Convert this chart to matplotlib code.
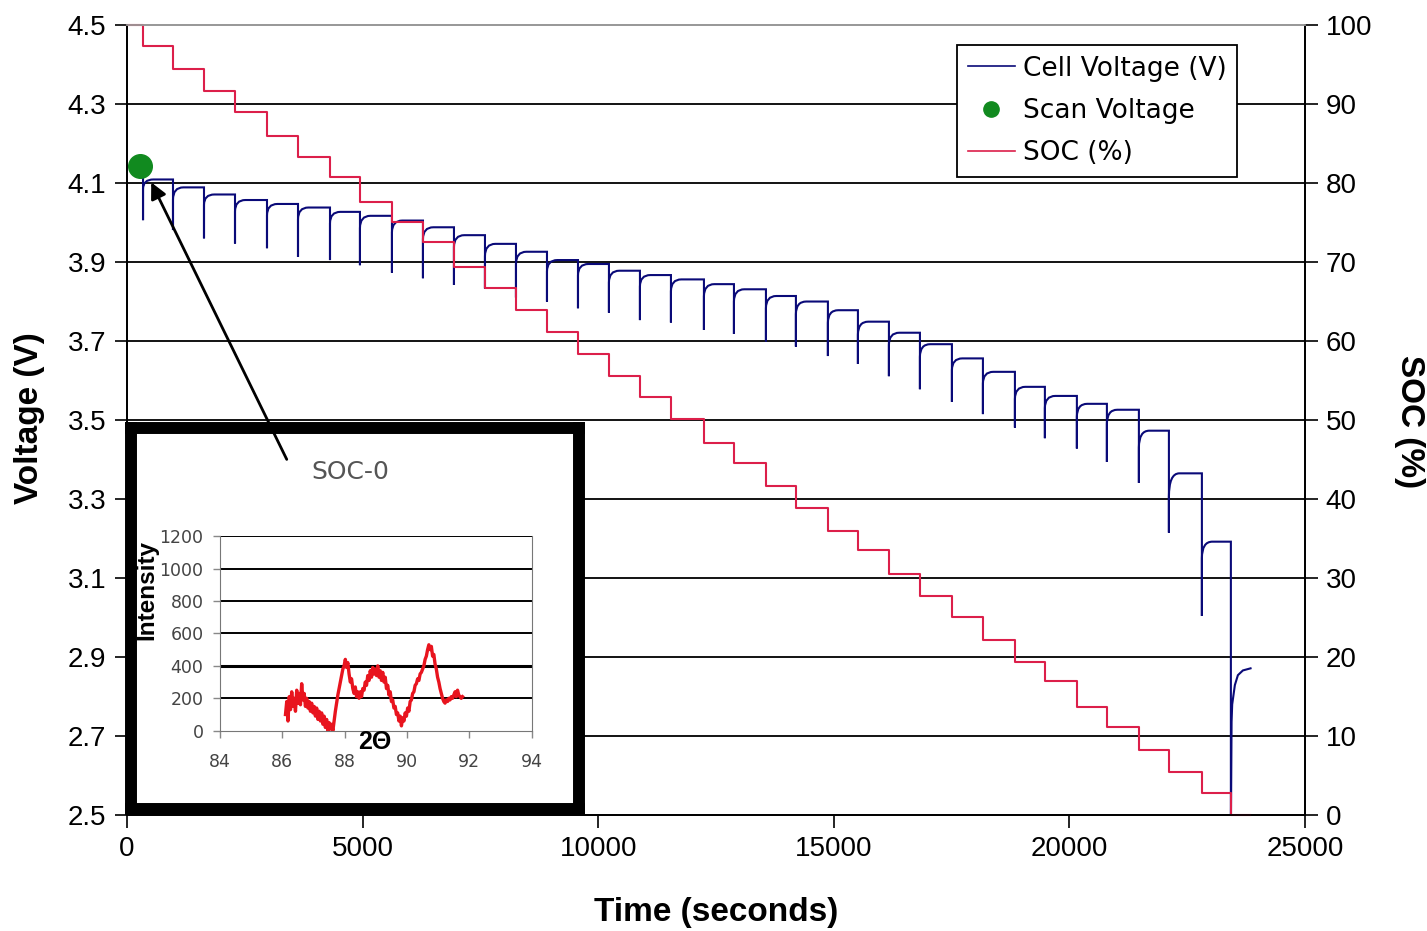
import matplotlib.pyplot as plt
from matplotlib.path import Path
from matplotlib.patches import PathPatch
from matplotlib.lines import Line2D

plt.rcParams['font.family'] = ['Liberation Sans', 'DejaVu Sans']

# discharge pulses: start time (s), dip, recovered and rest (plateau) voltage
step_t = [340, 976, 1634, 2292, 2971, 3629, 4308, 4944, 5623, 6281,
          6939, 7597, 8255, 8913, 9571, 10228, 10886, 11544, 12244, 12881,
          13560, 14196, 14875, 15512, 16170, 16828, 17507, 18165, 18844, 19480,
          20159, 20796, 21475, 22112, 22812, 23427]
v_dip = [4.006, 3.981, 3.960, 3.947, 3.935, 3.913, 3.905, 3.892, 3.873, 3.859,
         3.842, 3.833, 3.810, 3.800, 3.783, 3.772, 3.753, 3.747, 3.728, 3.718,
         3.699, 3.686, 3.662, 3.642, 3.611, 3.578, 3.546, 3.515, 3.481, 3.454,
         3.428, 3.394, 3.341, 3.215, 3.004, 2.45]
v_rec = [4.085, 4.058, 4.045, 4.028, 4.018, 4.008, 3.998, 3.986, 3.975, 3.958,
         3.938, 3.915, 3.895, 3.876, 3.866, 3.848, 3.838, 3.826, 3.813, 3.800,
         3.783, 3.768, 3.746, 3.716, 3.690, 3.660, 3.626, 3.592, 3.553, 3.530,
         3.508, 3.490, 3.430, 3.305, 3.150]
v_plat = [4.109, 4.089, 4.071, 4.057, 4.047, 4.038, 4.027, 4.017, 4.005, 3.988,
          3.968, 3.946, 3.926, 3.905, 3.895, 3.878, 3.867, 3.856, 3.844, 3.831,
          3.814, 3.800, 3.778, 3.749, 3.721, 3.692, 3.656, 3.622, 3.584, 3.561,
          3.541, 3.526, 3.473, 3.365, 3.192]
start_t, start_v = 250, 4.135
# recovery after the final (cut-off) pulse
tail_t = [23442, 23455, 23512, 23576, 23682, 23866]
tail_v = [2.736, 2.780, 2.829, 2.854, 2.866, 2.872]

# state of charge after each pulse
soc = [97.3, 94.4, 91.6, 89.0, 86.0, 83.3, 80.8, 77.6, 75.1, 72.5,
       69.4, 66.7, 63.9, 61.2, 58.4, 55.6, 52.9, 50.1, 47.1, 44.5,
       41.6, 38.8, 36.0, 33.5, 30.5, 27.7, 25.1, 22.2, 19.4, 16.9,
       13.7, 11.1, 8.2, 5.4, 2.8, 0.0]
soc_end_t = 23830

scan_t, scan_v = 276, 4.143

# XRD inset pattern (SOC-0)
two_theta = [86.10, 86.14, 86.18, 86.22, 86.26, 86.30, 86.34, 86.38, 86.42, 86.46,
             86.50, 86.54, 86.58, 86.62, 86.66, 86.70, 86.74, 86.78, 86.82, 86.86,
             86.90, 86.94, 86.98, 87.02, 87.06, 87.10, 87.14, 87.18, 87.22, 87.26,
             87.30, 87.34, 87.38, 87.42, 87.46, 87.50, 87.54, 87.58, 87.62, 87.66,
             87.70, 87.74, 87.78, 87.82, 87.86, 87.90, 87.94, 87.98, 88.02, 88.06,
             88.10, 88.14, 88.18, 88.22, 88.26, 88.30, 88.34, 88.38, 88.42, 88.46,
             88.50, 88.54, 88.58, 88.62, 88.66, 88.70, 88.74, 88.78, 88.82, 88.86,
             88.90, 88.94, 88.98, 89.02, 89.06, 89.10, 89.14, 89.18, 89.22, 89.26,
             89.30, 89.34, 89.38, 89.42, 89.46, 89.50, 89.54, 89.58, 89.62, 89.66,
             89.70, 89.74, 89.78, 89.82, 89.86, 89.90, 89.94, 89.98, 90.02, 90.06,
             90.10, 90.14, 90.18, 90.22, 90.26, 90.30, 90.34, 90.38, 90.42, 90.46,
             90.50, 90.54, 90.58, 90.62, 90.66, 90.70, 90.74, 90.78, 90.82, 90.86,
             90.90, 90.94, 90.98, 91.02, 91.06, 91.10, 91.14, 91.18, 91.22, 91.26,
             91.30, 91.34, 91.38, 91.42, 91.46, 91.50, 91.54, 91.58, 91.62, 91.66,
             91.70, 91.74, 91.78]
intensity = [100, 180, 60, 210, 130, 240, 150, 200, 120, 250,
             170, 230, 160, 290, 190, 230, 150, 200, 140, 180,
             120, 170, 110, 150, 90, 140, 70, 120, 60, 110,
             40, 90, 20, 70, 0, 50, 10, 40, 0, 60,
             120, 170, 220, 260, 300, 340, 380, 400, 440, 390,
             420, 350, 300, 320, 260, 230, 270, 210, 240, 200,
             240, 210, 260, 250, 300, 280, 340, 310, 370, 330,
             390, 350, 380, 340, 400, 330, 370, 310, 360, 300,
             330, 260, 280, 220, 240, 180, 190, 140, 150, 100,
             110, 60, 90, 30, 80, 60, 110, 90, 140, 120,
             180, 190, 230, 240, 280, 290, 320, 310, 350, 360,
             380, 400, 440, 460, 500, 530, 500, 520, 460, 470,
             410, 380, 330, 300, 260, 230, 200, 180, 170, 190,
             180, 200, 190, 210, 200, 220, 240, 210, 250, 220,
             210, 200, 210]

navy = '#0A0A78'
red = '#DC1F4A'
green = '#118A1F'

fig = plt.figure(figsize=(14.27, 9.31), dpi=100)
ax = fig.add_axes([0.0890, 0.1246, 0.8255, 0.8485])
ax2 = ax.twinx()

# voltage trace: flat rest, vertical dip, rounded relaxation to the plateau
verts = [(start_t, start_v)]
codes = [Path.MOVETO]
prev = start_v
for i in range(len(v_plat)):
    t = step_t[i]
    verts += [(t, prev), (t, v_dip[i]), (t, v_rec[i]), (t, v_plat[i]), (t + 220, v_plat[i])]
    codes += [Path.LINETO, Path.LINETO, Path.LINETO, Path.CURVE3, Path.CURVE3]
    prev = v_plat[i]
verts += [(step_t[-1], prev), (step_t[-1], v_dip[-1])]
codes += [Path.LINETO, Path.LINETO]
for t, v in zip(tail_t, tail_v):
    verts.append((t, v))
    codes.append(Path.LINETO)
ax.add_patch(PathPatch(Path(verts, codes), fill=False, edgecolor=navy, lw=1.5, zorder=3))

ax.plot([scan_t], [scan_v], 'o', color=green, ms=17, clip_on=False, zorder=4)

ax2.plot([0] + step_t + [soc_end_t], [100] + soc + [0], color=red, lw=1.5,
         drawstyle='steps-post', clip_on=False)

ax.set_xlim(0, 25000)
ax.set_ylim(2.5, 4.5)
ax2.set_ylim(0, 100)
vt = [2.5, 2.7, 2.9, 3.1, 3.3, 3.5, 3.7, 3.9, 4.1, 4.3, 4.5]
ax.set_yticks(vt)
ax.set_yticklabels(['%.1f' % v for v in vt])
ax.set_xticks(range(0, 25001, 5000))
ax2.set_yticks(range(0, 101, 10))
for v in vt[1:-1]:
    ax.axhline(v, color='k', lw=1.3, zorder=1)
for a in (ax, ax2):
    a.tick_params(direction='out', length=9, width=1.2, labelsize=20, pad=6)
    for s in a.spines.values():
        s.set_linewidth(1.3)
    a.spines['top'].set_color('#999999')

fig.text(30 / 1427, 1 - 418 / 931, 'Voltage (V)', rotation=90, ha='center', va='center',
         fontsize=24, fontweight='bold')
fig.text(1410 / 1427, 1 - 422 / 931, 'SOC (%)', rotation=270, ha='center', va='center',
         fontsize=24, fontweight='bold')
fig.text(716 / 1427, 1 - 913 / 931, 'Time (seconds)', ha='center', va='center',
         fontsize=24, fontweight='bold')

handles = [Line2D([], [], color=navy, lw=1.2),
           Line2D([], [], marker='o', ls='none', color=green, ms=11),
           Line2D([], [], color=red, lw=1.2)]
leg = ax2.legend(handles, ['Cell Voltage (V)', 'Scan Voltage', 'SOC (%)'],
                 loc='upper left', bbox_to_anchor=(0.7046, 0.9747), borderaxespad=0,
                 fancybox=False, framealpha=1, edgecolor='k',
                 prop={'family': 'DejaVu Sans', 'size': 19},
                 handlelength=1.8, handletextpad=0.3, labelspacing=0.62, borderpad=0.4)
leg.get_frame().set_linewidth(1.3)

# inset: framed XRD pattern
frame = fig.add_axes([0.0918, 0.1310, 0.3140, 0.4093], zorder=5)
frame.set_xticks([])
frame.set_yticks([])
for s in frame.spines.values():
    s.set_linewidth(8.6)
    s.set_color('k')

xrd = fig.add_axes([0.1542, 0.2151, 0.2184, 0.2091], zorder=6)
xrd.set_facecolor('none')
xrd.plot(two_theta, intensity, color='#E8141E', lw=2.4)
xrd.set_xlim(84, 94)
xrd.set_ylim(0, 1200)
xrd.set_xticks(range(84, 95, 2))
xrd.set_yticks(range(0, 1201, 200))
for v in range(200, 1201, 200):
    xrd.axhline(v, color='k', lw=1.4 if v != 400 else 2.2, zorder=0)
xrd.tick_params(direction='out', length=5, width=1, colors='#888888', labelcolor='#444444',
                labelsize=12.5)
xrd.tick_params(axis='x', pad=11)
xrd.tick_params(axis='y', pad=7)
for lab in xrd.get_xticklabels() + xrd.get_yticklabels():
    lab.set_family('DejaVu Sans')
for s in ('left', 'bottom', 'right'):
    xrd.spines[s].set_color('#777777')
xrd.spines['top'].set_visible(False)

fig.text(350 / 1427, 1 - 472 / 931, 'SOC-0', ha='center', va='center', color='#555555',
         fontsize=18, family='DejaVu Sans', zorder=7)
fig.text(147 / 1427, 1 - 590 / 931, 'Intensity', rotation=90, ha='center', va='center',
         fontsize=17.5, fontweight='bold', zorder=7)
fig.text(375 / 1427, 1 - 742 / 931, '2Θ', ha='center', va='center',
         fontsize=18, fontweight='bold', zorder=7)

frame.annotate('', xy=(488, 4.108), xycoords=ax.transData,
               xytext=(3416, 3.394), textcoords=ax.transData,
               arrowprops=dict(arrowstyle='-|>', color='k', lw=2, mutation_scale=24),
               annotation_clip=False)

fig.savefig('out.png', dpi=100, facecolor='white')
